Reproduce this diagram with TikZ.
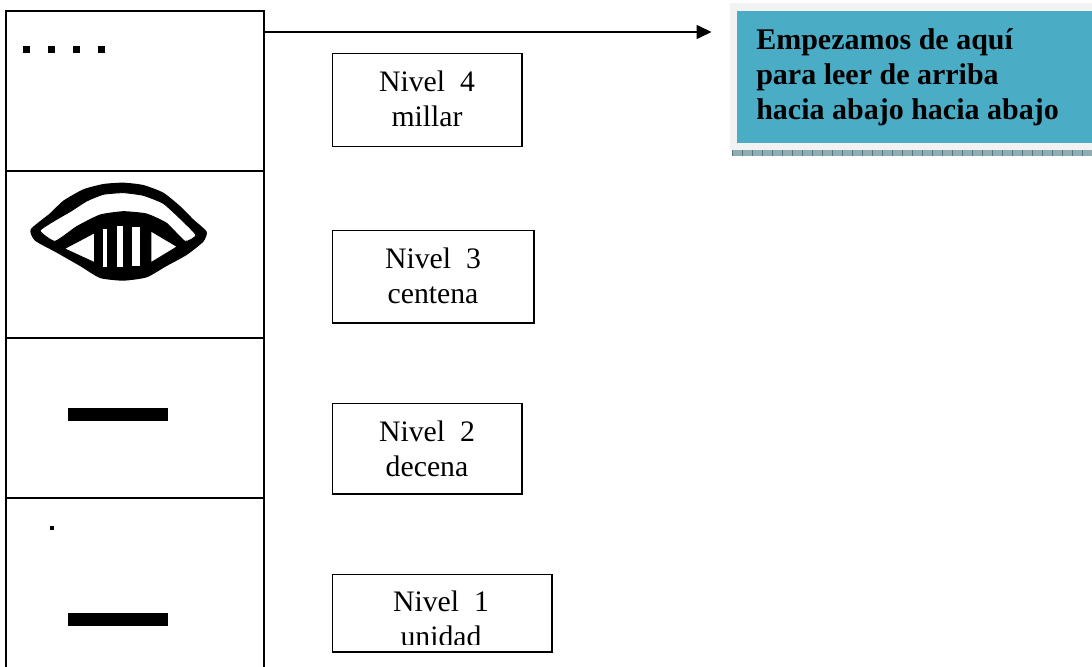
\documentclass[tikz,border=0pt]{standalone}
\usepackage{fontspec}
\setmainfont{Liberation Serif}
\usetikzlibrary{arrows.meta}
\definecolor{calloutblue}{HTML}{4BACC6}
\definecolor{calloutrim}{HTML}{F2F2F2}
\definecolor{stripfill}{HTML}{8FACB3}
\definecolor{striptick}{HTML}{4F7580}
\tikzset{
  x=0.75pt,y=-0.75pt,
  cellbox/.style={draw=black,line width=1pt,anchor=north west,inner sep=0pt,outer sep=0pt,minimum width=193.5pt},
  levelbox/.style={draw=black,line width=0.85pt,anchor=north west,inner sep=0pt,outer sep=0pt},
  leveltext/.style={font=\fontsize{22.3}{26}\selectfont,align=center,inner sep=0pt},
  glyphbar/.style={fill=black,draw=none},
  eyecut/.style={fill=white,draw=black,line width=0.7pt,line join=round},
}
\begin{document}
\begin{tikzpicture}
\useasboundingbox (0,0) rectangle (1092,667);
\fill[white] (0,0) rectangle (1092,667);
% table
\node[cellbox,minimum height=120pt] (c4) at (6,11) {};
\node[cellbox,minimum height=125.25pt] (c3) at (6,171) {};
\node[cellbox,minimum height=120pt] (c2) at (6,338) {};
\node[cellbox,minimum height=135pt] (c1) at (6,498) {};
% dots
\foreach \dx in {23,48,73,98}{\fill (\dx,46.5) rectangle ++(7,7);}
\fill (49.5,525.5) rectangle ++(4,4);
% bars
\fill[glyphbar] (68,408) rectangle (168,421);
\fill[glyphbar] (68,612.5) rectangle (168,625.5);
% eye
\begin{scope}[yshift=-127.5pt,x=0.25pt,y=-0.25pt]
\fill[black] plot[smooth cycle,tension=0.35] coordinates {(92,178)(150,130)(190,92)(250,58)(310,42)(370,38)(430,45)(490,68)(540,108)(580,148)(620,185)(610,215)(560,255)(500,288)(440,322)(370,332)(300,324)(240,288)(170,248)(105,212)};
\path[eyecut] plot[smooth cycle,tension=0.3] coordinates {(120,182)(165,214)(230,170)(300,135)(370,125)(440,132)(500,160)(555,214)(588,195)(540,145)(490,100)(430,76)(370,68)(310,73)(260,93)(210,125)(170,148)};
\path[eyecut] (193,236) -- (284,188) -- (284,278) -- cycle;
\path[eyecut] (453,183) -- (532,230) -- (453,278) -- cycle;
\fill[white] (310,176) rectangle (322,290);
\fill[white] (352,168) rectangle (368,292);
\fill[white] (397,172) rectangle (420,288);
\end{scope}
% level boxes
\node[levelbox,minimum width=142pt,minimum height=70pt] (n4) at (332.6,53.3) {};
\node[leveltext] (t4) at (427,99) {Nivel\ \ 4\\millar};
\node[levelbox,minimum width=151pt,minimum height=69.5pt] (n3) at (332.6,230.3) {};
\node[leveltext] (t3) at (433,276) {Nivel\ \ 3\\centena};
\node[levelbox,minimum width=142pt,minimum height=68pt] (n2) at (332.6,403.3) {};
\node[leveltext] (t2) at (427,449) {Nivel\ \ 2\\decena};
\node[levelbox,minimum width=164.5pt,minimum height=58.25pt] (n1) at (332.6,574.3) {};
\begin{scope}
\clip (332,574) rectangle (552,644);
\node[leveltext] (t1) at (441,619) {Nivel\ \ 1\\unidad};
\end{scope}
% callout
\fill[calloutrim] (730,3) rectangle (1092,150);
\node[fill=calloutblue,anchor=north west,inner sep=0pt,outer sep=0pt,minimum width=266.25pt,minimum height=99pt] (call) at (737,11) {};
\node[anchor=west,inner sep=0pt,align=left,font=\fontsize{22.5}{26.2}\selectfont\bfseries] (calltext) at (756,77.5) {Empezamos de aquí\\para leer de arriba\\hacia abajo hacia abajo};
\fill[stripfill] (732,150) rectangle (1092,156);
\foreach \tx in {732,742,...,1092}{\draw[striptick,line width=0.5pt] (\tx,150) -- (\tx,156);}
% arrow
\coordinate (arrowstart) at (265,32);
\coordinate (arrowend) at (711.5,32);
\draw[-{Triangle[length=11.25pt,width=10.5pt]},line width=1.1pt] (arrowstart) -- (arrowend);
\end{tikzpicture}
\end{document}
